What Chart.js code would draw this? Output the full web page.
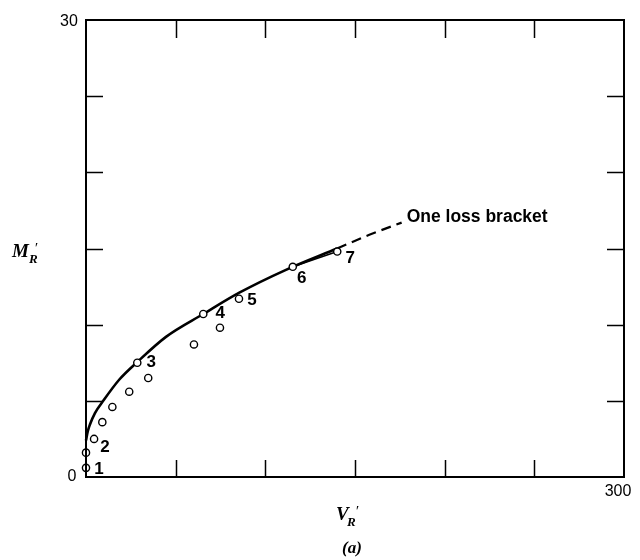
<!DOCTYPE html>
<html lang="en">
<head>
<meta charset="UTF-8">
<title>M_R' vs V_R'</title>
<script src="https://cdn.jsdelivr.net/npm/chart.js"></script>
<style>
    html, body { margin: 0; padding: 0; background: #fff; }
    #wrap { width: 640px; height: 560px; }
</style>
</head>
<body>
<div id="wrap"><canvas id="chart" width="640" height="560"></canvas></div>
<script>
// numbered test points 1..7
const numberedV = [0, 4.5, 28.6, 65.4, 85.3, 115.3, 140.1];
const numberedM = [0.6, 2.5, 7.5, 10.7, 11.7, 13.8, 14.8];
const numberedTags = ['1', '2', '3', '4', '5', '6', '7'];
// the unnumbered points in between
const otherV = [0, 9.1, 14.7, 24.1, 34.7, 60.2, 74.7];
const otherM = [1.6, 3.6, 4.6, 5.6, 6.5, 8.7, 9.8];
// one loss bracket curve (solid part, then dashed extension)
const curveV = [0, 1, 2.2, 5, 9.6, 18.6, 28.6, 44.6, 65.4, 85.5, 111.5, 140];
const curveM = [2.4, 3.0, 3.45, 4.2, 5.0, 6.4, 7.55, 9.2, 10.7, 12.1, 13.6, 15.0];
const dashV = [140, 158, 176];
const dashM = [15.0, 15.9, 16.7];
// straight piece from 6 to 7
const chordV = [115.3, 140.1];
const chordM = [13.8, 14.8];
// axis ticks
const xTicks = [0, 50, 100, 150, 200, 250, 300];
const yTicks = [0, 5, 10, 15, 20, 25, 30];
const xTickLabels = { 0: '0', 300: '300' };
const yTickLabels = { 30: '30' };
const curveLabel = 'One loss bracket';

// where each number sits relative to its circle (px)
const tagOffsets = [[13, 1], [11, 8], [14, 0], [17, -1], [13, 2], [9, 12], [13, 7]];

const pts = (xs, ys) => xs.map((x, i) => ({ x: x, y: ys[i] }));

const framePlugin = {
    id: 'frame',
    afterDraw(chart) {
        const ctx = chart.ctx;
        const a = chart.chartArea;
        const sx = chart.scales.x, sy = chart.scales.y;
        ctx.save();
        ctx.strokeStyle = '#000';
        ctx.lineWidth = 2;
        ctx.strokeRect(a.left, a.top, a.right - a.left, a.bottom - a.top);

        // inward ticks on all four sides
        ctx.lineWidth = 1.5;
        ctx.beginPath();
        xTicks.slice(1, -1).forEach(v => {
            const px = Math.round(sx.getPixelForValue(v)) + 0.5;
            ctx.moveTo(px, a.bottom); ctx.lineTo(px, a.bottom - 17);
            ctx.moveTo(px, a.top); ctx.lineTo(px, a.top + 18);
        });
        yTicks.slice(1, -1).forEach(v => {
            const py = Math.round(sy.getPixelForValue(v)) + 0.5;
            ctx.moveTo(a.left, py); ctx.lineTo(a.left + 17, py);
            ctx.moveTo(a.right, py); ctx.lineTo(a.right - 17, py);
        });
        ctx.stroke();

        // tick numbers
        ctx.fillStyle = '#000';
        ctx.font = '16px "Liberation Sans", Arial, sans-serif';
        ctx.textBaseline = 'middle';
        ctx.textAlign = 'center';
        Object.keys(yTickLabels).forEach(k => {
            ctx.fillText(yTickLabels[k], a.left - 17, sy.getPixelForValue(+k) + 2);
        });
        Object.keys(xTickLabels).forEach(k => {
            const v = +k;
            if (v === 0) ctx.fillText(xTickLabels[k], a.left - 14, a.bottom);
            else ctx.fillText(xTickLabels[k], sx.getPixelForValue(v) - 6, a.bottom + 15);
        });

        // numbers beside the numbered circles
        ctx.font = 'bold 17px "Liberation Sans", Arial, sans-serif';
        const meta = chart.getDatasetMeta(0);
        meta.data.forEach((el, i) => {
            const off = tagOffsets[i];
            ctx.fillText(numberedTags[i], el.x + off[0], el.y + off[1]);
        });

        // curve name at the end of the dashed extension
        const dm = chart.getDatasetMeta(3);
        const end = dm.data[dm.data.length - 1];
        ctx.textAlign = 'left';
        ctx.font = 'bold 17.5px "Liberation Sans", Arial, sans-serif';
        ctx.fillText(curveLabel, end.x + 5, end.y - 5);

        // axis titles
        ctx.textBaseline = 'alphabetic';
        ctx.font = 'bold italic 19px "Liberation Serif", "DejaVu Serif", serif';
        ctx.fillText('M', 12, 257);
        ctx.font = 'bold italic 13px "Liberation Serif", "DejaVu Serif", serif';
        ctx.fillText('R', 29, 263);
        ctx.font = 'italic 15px "Liberation Serif", "DejaVu Serif", serif';
        ctx.fillText('\u2032', 34, 253);

        ctx.font = 'bold italic 19px "Liberation Serif", "DejaVu Serif", serif';
        ctx.fillText('V', 336, 520);
        ctx.font = 'bold italic 13px "Liberation Serif", "DejaVu Serif", serif';
        ctx.fillText('R', 347, 526);
        ctx.font = 'italic 15px "Liberation Serif", "DejaVu Serif", serif';
        ctx.fillText('\u2032', 355, 516);

        ctx.font = 'bold italic 17px "Liberation Serif", "DejaVu Serif", serif';
        ctx.textAlign = 'center';
        ctx.fillText('(a)', 352, 553);
        ctx.restore();
    }
};

const circleStyle = {
    showLine: false,
    pointRadius: 3.6,
    pointBackgroundColor: '#fff',
    pointBorderColor: '#000',
    pointBorderWidth: 1.4
};

new Chart(document.getElementById('chart'), {
    type: 'scatter',
    data: {
        datasets: [
            Object.assign({ label: 'numbered', data: pts(numberedV, numberedM), order: 0 }, circleStyle),
            Object.assign({ label: 'other', data: pts(otherV, otherM), order: 0 }, circleStyle),
            {
                label: 'curve', data: pts(curveV, curveM), showLine: true, order: 2,
                borderColor: '#000', borderWidth: 2.6, pointRadius: 0,
                cubicInterpolationMode: 'monotone'
            },
            {
                label: 'dashed', data: pts(dashV, dashM), showLine: true, order: 2,
                borderColor: '#000', borderWidth: 2.2, pointRadius: 0,
                borderDash: [10, 6], cubicInterpolationMode: 'monotone'
            },
            {
                label: 'chord', data: pts(chordV, chordM), showLine: true, order: 2,
                borderColor: '#000', borderWidth: 1.6, pointRadius: 0
            }
        ]
    },
    options: {
        responsive: false,
        animation: false,
        layout: { padding: { left: 86, right: 16, top: 20, bottom: 83 } },
        plugins: { legend: { display: false }, tooltip: { enabled: false } },
        scales: {
            x: { type: 'linear', min: 0, max: 300, display: false },
            y: { type: 'linear', min: 0, max: 30, display: false }
        },
        clip: false
    },
    plugins: [framePlugin]
});
</script>
</body>
</html>
